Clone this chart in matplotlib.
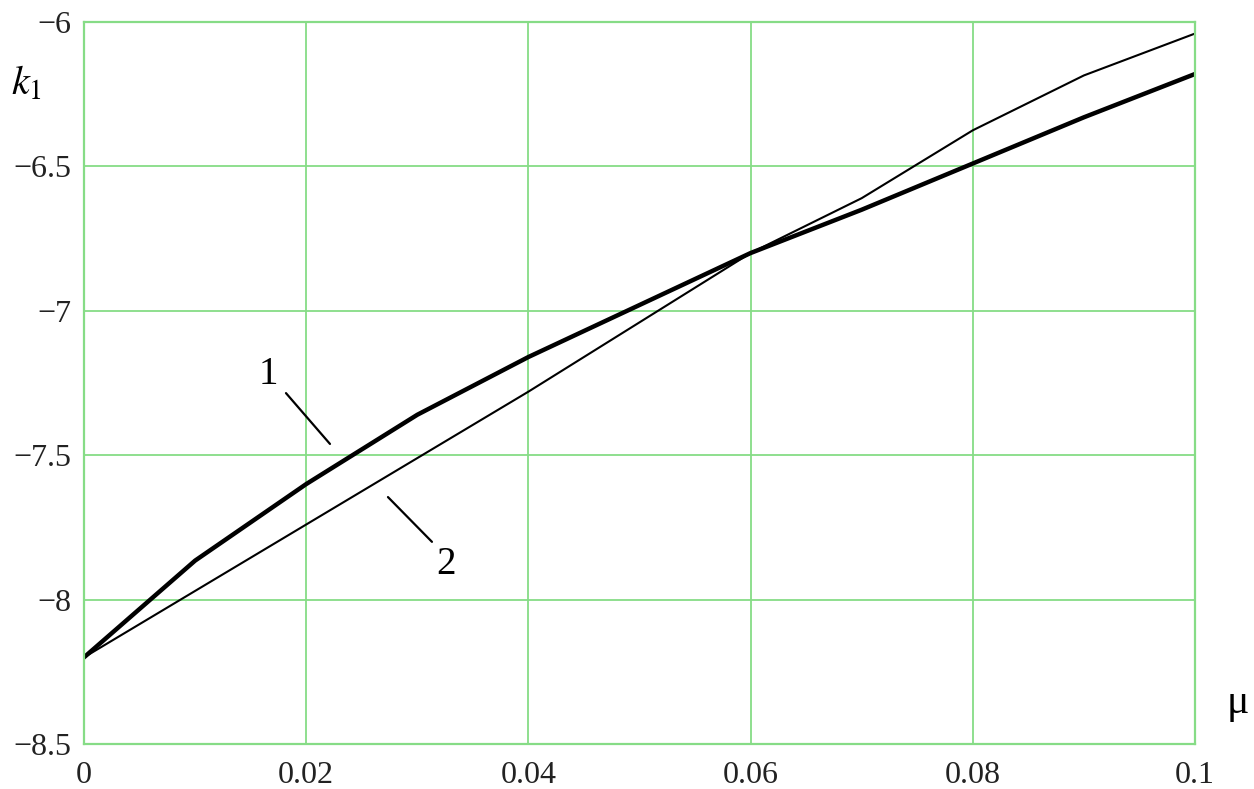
import matplotlib
matplotlib.use('Agg')
import matplotlib.pyplot as plt

mu = [0.0, 0.01, 0.02, 0.03, 0.04, 0.05, 0.06, 0.07, 0.08, 0.09, 0.1]
k1_curve1 = [-8.2, -7.865, -7.6, -7.36, -7.16, -6.98, -6.8, -6.65, -6.49, -6.33, -6.18]
k1_curve2 = [-8.2, -7.97, -7.74, -7.51, -7.28, -7.04, -6.8, -6.61, -6.375, -6.185, -6.04]

xticks = [0, 0.02, 0.04, 0.06, 0.08, 0.1]
xtick_labels = ['0', '0.02', '0.04', '0.06', '0.08', '0.1']
yticks = [-8.5, -8, -7.5, -7, -6.5, -6]
ytick_labels = ['\u22128.5', '\u22128', '\u22127.5', '\u22127', '\u22126.5', '\u22126']

green = '#86dc86'

plt.rcParams['font.family'] = ['Liberation Serif', 'DejaVu Serif']

fig = plt.figure(figsize=(12.54, 7.89), dpi=100)
ax = fig.add_axes([84 / 1254, 1 - 744 / 789, (1195 - 84) / 1254, (744 - 22) / 789])

ax.plot(mu, k1_curve1, color='black', linewidth=3.2, solid_joinstyle='round')
ax.plot(mu, k1_curve2, color='black', linewidth=1.5)

ax.set_xlim(0, 0.1)
ax.set_ylim(-8.5, -6)
ax.set_xticks(xticks)
ax.set_xticklabels(xtick_labels)
ax.set_yticks(yticks)
ax.set_yticklabels(ytick_labels)
ax.tick_params(length=0, labelsize=23, labelcolor='#222222')
ax.tick_params(axis='x', pad=12)
ax.tick_params(axis='y', pad=9)
ax.grid(True, color=green, linewidth=1.3)
ax.set_axisbelow(True)
for s in ax.spines.values():
    s.set_color(green)
    s.set_linewidth(1.6)

# curve labels and leader lines
ax.text(0.01656, -7.222, '1', fontsize=28, ha='center', va='center')
ax.annotate('', xy=(0.02214, -7.461), xytext=(0.01818, -7.285),
            arrowprops=dict(arrowstyle='-', color='black', lw=1.6, shrinkA=0, shrinkB=0))
ax.text(0.03258, -7.88, '2', fontsize=28, ha='center', va='center')
ax.annotate('', xy=(0.02736, -7.645), xytext=(0.03132, -7.80),
            arrowprops=dict(arrowstyle='-', color='black', lw=1.6, shrinkA=0, shrinkB=0))

fig.text(26 / 1254, 1 - 84 / 789, '$k_1$', fontsize=29, ha='center', va='center',
         math_fontfamily='stix')
fig.text(1238 / 1254, 1 - 703 / 789, '\u03bc', fontsize=30, ha='center', va='center')

fig.savefig('out.png', dpi=100, facecolor='white')
